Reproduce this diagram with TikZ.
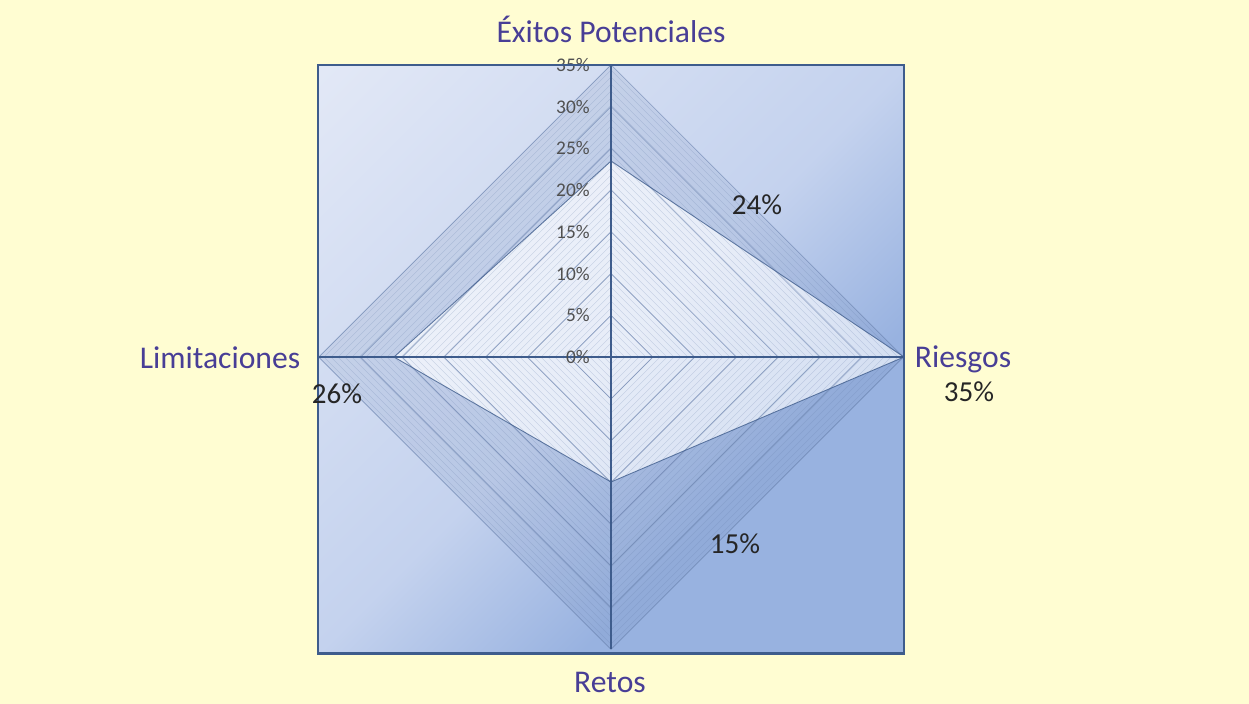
\documentclass[tikz,border=0pt]{standalone}
\usepackage{fontspec}
\setmainfont{Carlito}
\usepackage{tikz}
\usetikzlibrary{calc,shadings}

\definecolor{bgyellow}{RGB}{255,253,210}
\definecolor{frameblue}{RGB}{62,92,140}
\definecolor{gridblue}{RGB}{104,128,172}
\definecolor{catpurple}{RGB}{72,62,150}
\definecolor{tickgray}{RGB}{80,80,80}
\definecolor{shadeUL}{RGB}{226,232,246}
\definecolor{shadeMid}{RGB}{196,210,238}
\definecolor{shadeLR}{RGB}{152,178,224}
\pgfdeclarehorizontalshading{plotbg}{100bp}{color(0bp)=(shadeUL); color(15bp)=(shadeUL);
  color(50bp)=(shadeMid); color(66bp)=(shadeLR); color(100bp)=(shadeLR)}

\begin{document}
\begin{tikzpicture}[x=0.02cm,y=-0.02cm,
  catlabel/.style={font=\fontsize{18}{21}\selectfont, text=catpurple, inner sep=0pt, anchor=base},
  vallabel/.style={font=\fontsize{16.5}{19}\selectfont, text=black!85, inner sep=0pt, anchor=base},
  ticklabel/.style={font=\fontsize{11}{13}\selectfont, text=tickgray, inner sep=0pt, anchor=east},
  gridline/.style={draw=gridblue, line width=0.4pt, opacity=0.7},
  fineline/.style={draw=gridblue, line width=0.2pt, opacity=0.3},
  axisline/.style={draw=frameblue, line width=1.1pt}]
\useasboundingbox (0,0) rectangle (1249,704);
\fill [bgyellow] (0,0) rectangle (1249,704);
% plot area
\shade [shading=plotbg, shading angle=-45] (318,65) rectangle (904,653);
\begin{scope}[shift={(611,357)}]
\coordinate (c) at (0,0);
\coordinate (top) at (0,-292);
\coordinate (right) at (293,0);
\coordinate (bottom) at (0,292);
\coordinate (left) at (-293,0);
% data points
\coordinate (dt) at (0,-196);
\coordinate (dr) at (293,0);
\coordinate (db) at (0,125);
\coordinate (dl) at (-217,0);
% band outside the data
\fill [gridblue, opacity=0.13, even odd rule] (top) -- (right) -- (bottom) -- (left) -- cycle
  (dt) -- (dr) -- (db) -- (dl) -- cycle;
\fill [white, opacity=0.6] (dt) -- (dr) -- (db) -- (dl) -- cycle;
% fine lines
\foreach \r in {7,14,...,287}
  \draw [fineline] (0,-\r) -- (\r,0) -- (0,\r) -- (-\r,0) -- cycle;
% grid
\foreach \k in {1,...,7}
  \draw [gridline] (0,-\k*41.75) -- (\k*41.75,0) -- (0,\k*41.75) -- (-\k*41.75,0) -- cycle;
\draw [draw=frameblue, line width=0.5pt, opacity=0.8] (dt) -- (dr) -- (db) -- (dl) -- cycle;
\draw [axisline] (top) -- (bottom);
\draw [axisline] (left) -- (right);
% ticks
\foreach \k in {0,...,7}
  \node [ticklabel] (t\k) at (-21,-\k*41.75) {\the\numexpr\k*5\relax\%};
\end{scope}
\draw [frameblue, line width=1.7pt] (318,65) rectangle (904,653);
% labels
\node [catlabel] (exitos) at (611,42) {Éxitos Potenciales};
\node [catlabel] (riesgos) at (963,367) {Riesgos};
\node [catlabel] (retos) at (610,692) {Retos};
\node [catlabel] (limit) at (220,368) {Limitaciones};
\node [vallabel] (v24) at (757,214) {24\%};
\node [vallabel] (v35) at (969,401) {35\%};
\node [vallabel] (v15) at (735,553) {15\%};
\node [vallabel] (v26) at (337,403) {26\%};
\end{tikzpicture}
\end{document}
